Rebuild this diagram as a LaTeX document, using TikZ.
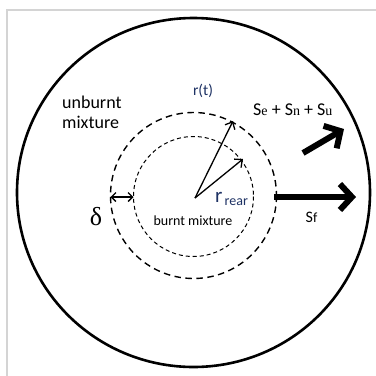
\documentclass[tikz,border=0pt]{standalone}
\usepackage{fontspec}
\setmainfont{Carlito}
\newfontfamily\serifgreek{Liberation Serif}
\usetikzlibrary{arrows.meta}
\definecolor{framegray}{RGB}{212,212,212}
\definecolor{rblue}{RGB}{30,50,100}
\begin{document}
\begin{tikzpicture}[x=1pt,y=-1pt,
  frame/.style={draw=framegray,line width=2pt},
  outercirc/.style={draw,line width=2.6pt},
  frontcirc/.style={draw,line width=1.4pt,dash pattern=on 6.5pt off 4.5pt},
  rearcirc/.style={draw,line width=1pt,dash pattern=on 4pt off 3pt},
  thinarrow/.style={line width=1.3pt,-{Straight Barb[length=6pt,width=11pt]}},
  thickarrow/.style={line width=6pt,-{Straight Barb[length=12pt,width=26pt]}},
  lbl/.style={inner sep=0pt,text=black}]
\useasboundingbox (0,0) rectangle (376,376);
\fill[white] (0,0) rectangle (376,376);
\draw[frame] (7,380) -- (7,9.8) -- (380,9.8);
\draw[outercirc] (193.5,192.5) ellipse [x radius=176.5, y radius=174.5];
\draw[frontcirc] (193.5,195.5) circle [radius=83];
\draw[rearcirc] (193.5,196.5) circle [radius=60];
\coordinate (c) at (195,198);
\coordinate (t1) at (233,121);
\coordinate (t2) at (243,159);
\draw[thinarrow] (c) -- (t1);
\draw[thinarrow] (c) -- (t2);
\coordinate (d1) at (110.5,197);
\coordinate (d2) at (133.5,197);
\draw[line width=1.3pt,{Straight Barb[length=4.5pt,width=9pt]}-{Straight Barb[length=4.5pt,width=9pt]}] (d1) -- (d2);
\coordinate (f0) at (274,197);
\coordinate (f1) at (356,197);
\draw[thickarrow] (f0) -- (f1);
\coordinate (g0) at (303,153);
\coordinate (g1) at (344,129);
\draw[thickarrow] (g0) -- (g1);
\node[lbl,align=left,anchor=base west,font=\fontsize{18}{20.5}\selectfont] (unb) at (62,128.5) {unburnt\\mixture};
\node[lbl,text=rblue,font=\fontsize{15.5}{17}\selectfont] (rt) at (203,90.5) {r(t)};
\node[lbl,anchor=base west,font=\fontsize{18}{20}\selectfont] (sens) at (253,115) {S{\serifgreek\fontsize{14}{16}\selectfont e} + S{\serifgreek\fontsize{14}{16}\selectfont n} + S{\serifgreek\fontsize{14}{16}\selectfont u}};
\node[lbl,font=\fontsize{26}{28}\selectfont\serifgreek] (delta) at (96,217) {δ};
\node[lbl,anchor=base west,text=rblue,font=\fontsize{21}{22}\selectfont] (rr) at (215,202) {r};
\node[lbl,anchor=base west,text=rblue,font=\fontsize{14}{16}\selectfont] (rear) at (224.5,205) {rear};
\node[lbl,font=\fontsize{14}{16}\selectfont] (bm) at (193,221) {burnt mixture};
\node[lbl,anchor=base west,font=\fontsize{16}{18}\selectfont] (sf) at (305.5,222) {S\fontsize{14}{16}\selectfont f};
\end{tikzpicture}
\end{document}
